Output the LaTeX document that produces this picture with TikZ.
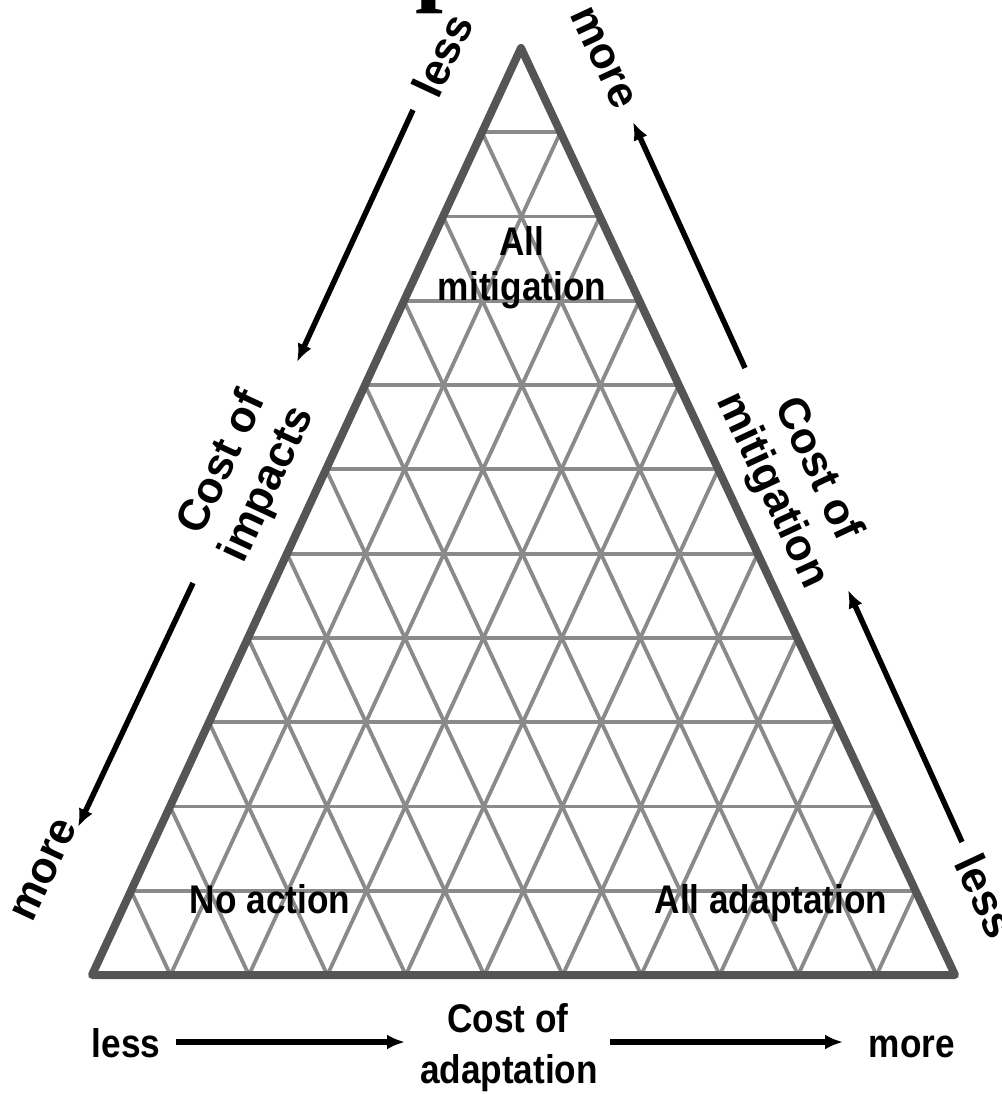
\documentclass[tikz,border=0pt]{standalone}
\usepackage{fontspec}
\setmainfont{Liberation Sans}
\newfontfamily\capfont{Liberation Serif}
\usepackage{tikz}
\usetikzlibrary{shapes,arrows,arrows.meta,positioning,calc}

\definecolor{edgegray}{HTML}{555555}
\definecolor{gridgray}{HTML}{8A8A8A}

\tikzset{
  gridline/.style={draw=gridgray, line width=3.8pt},
  edge/.style={draw=edgegray, line width=8pt, line join=round},
  inlbl/.style={font=\bfseries\fontsize{40}{51}\selectfont, xscale=.88, inner sep=0pt, anchor=base},
  sidelbl/.style={font=\bfseries\fontsize{44}{50}\selectfont, inner sep=0pt, align=center},
  cost/.style={line width=5.5pt, -{Latex[length=18pt,width=15pt]}},
}

\begin{document}
\begin{tikzpicture}[x=1pt,y=1pt]
\useasboundingbox (0,0) rectangle (1001,-1094);

% corners of the triangle
\coordinate (apex) at (521,-48);
\coordinate (lcorner) at (92,-975);
\coordinate (rcorner) at (955,-975);

% grid
\foreach \i in {1,...,10}{
  \draw[gridline] ($(lcorner)!\i/11!(apex)$) -- ($(rcorner)!\i/11!(apex)$);
  \draw[gridline] ($(lcorner)!\i/11!(rcorner)$) -- ($(lcorner)!\i/11!(apex)$);
  \draw[gridline] ($(rcorner)!\i/11!(lcorner)$) -- ($(rcorner)!\i/11!(apex)$);
}
\draw[edge] (apex) -- (lcorner) -- (rcorner) -- cycle;

% corner labels
\node[inlbl] (allm) at (522,-255) {All};
\node[inlbl] (mitig) at (522,-300) {mitigation};
\node[inlbl] (noact) at (270,-913) {No action};
\node[inlbl] (alla) at (771,-913) {All adaptation};

% cut glyph at the top
\node[font=\capfont\bfseries\fontsize{100}{100}\selectfont, anchor=base west, inner sep=0pt] (glyph) at (415,7) {p};

% impacts side
\node[sidelbl, rotate=65] (lessi) at (442,-55) {less};
\node[sidelbl, rotate=65] (costi) at (246,-474) {Cost of\\impacts};
\node[sidelbl, rotate=65] (morei) at (45,-870) {more};
\coordinate (i1) at (413,-110);
\coordinate (i2) at (297,-362);
\coordinate (i3) at (193,-583);
\coordinate (i4) at (78,-827);
\draw[cost] (i1) -- (i2);
\draw[cost] (i3) -- (i4);

% mitigation side
\node[sidelbl, rotate=-65] (morem) at (603,-58) {more};
\node[sidelbl, rotate=-65] (costm) at (794,-480) {Cost of\\mitigation};
\node[sidelbl, rotate=-65] (lessm) at (986,-896) {less};
\coordinate (m1) at (745,-368);
\coordinate (m2) at (633,-122);
\coordinate (m3) at (962,-842);
\coordinate (m4) at (848,-590);
\draw[cost] (m1) -- (m2);
\draw[cost] (m3) -- (m4);

% adaptation axis
\node[inlbl] (lessa) at (126,-1057) {less};
\node[inlbl] (costa) at (508,-1032) {Cost of};
\node[inlbl] (adapt) at (509,-1083) {adaptation};
\node[inlbl] (morea) at (912,-1057) {more};
\coordinate (a1) at (176,-1042);
\coordinate (a2) at (405,-1042);
\coordinate (a3) at (610,-1042);
\coordinate (a4) at (843,-1042);
\draw[cost] (a1) -- (a2);
\draw[cost] (a3) -- (a4);
\end{tikzpicture}
\end{document}
